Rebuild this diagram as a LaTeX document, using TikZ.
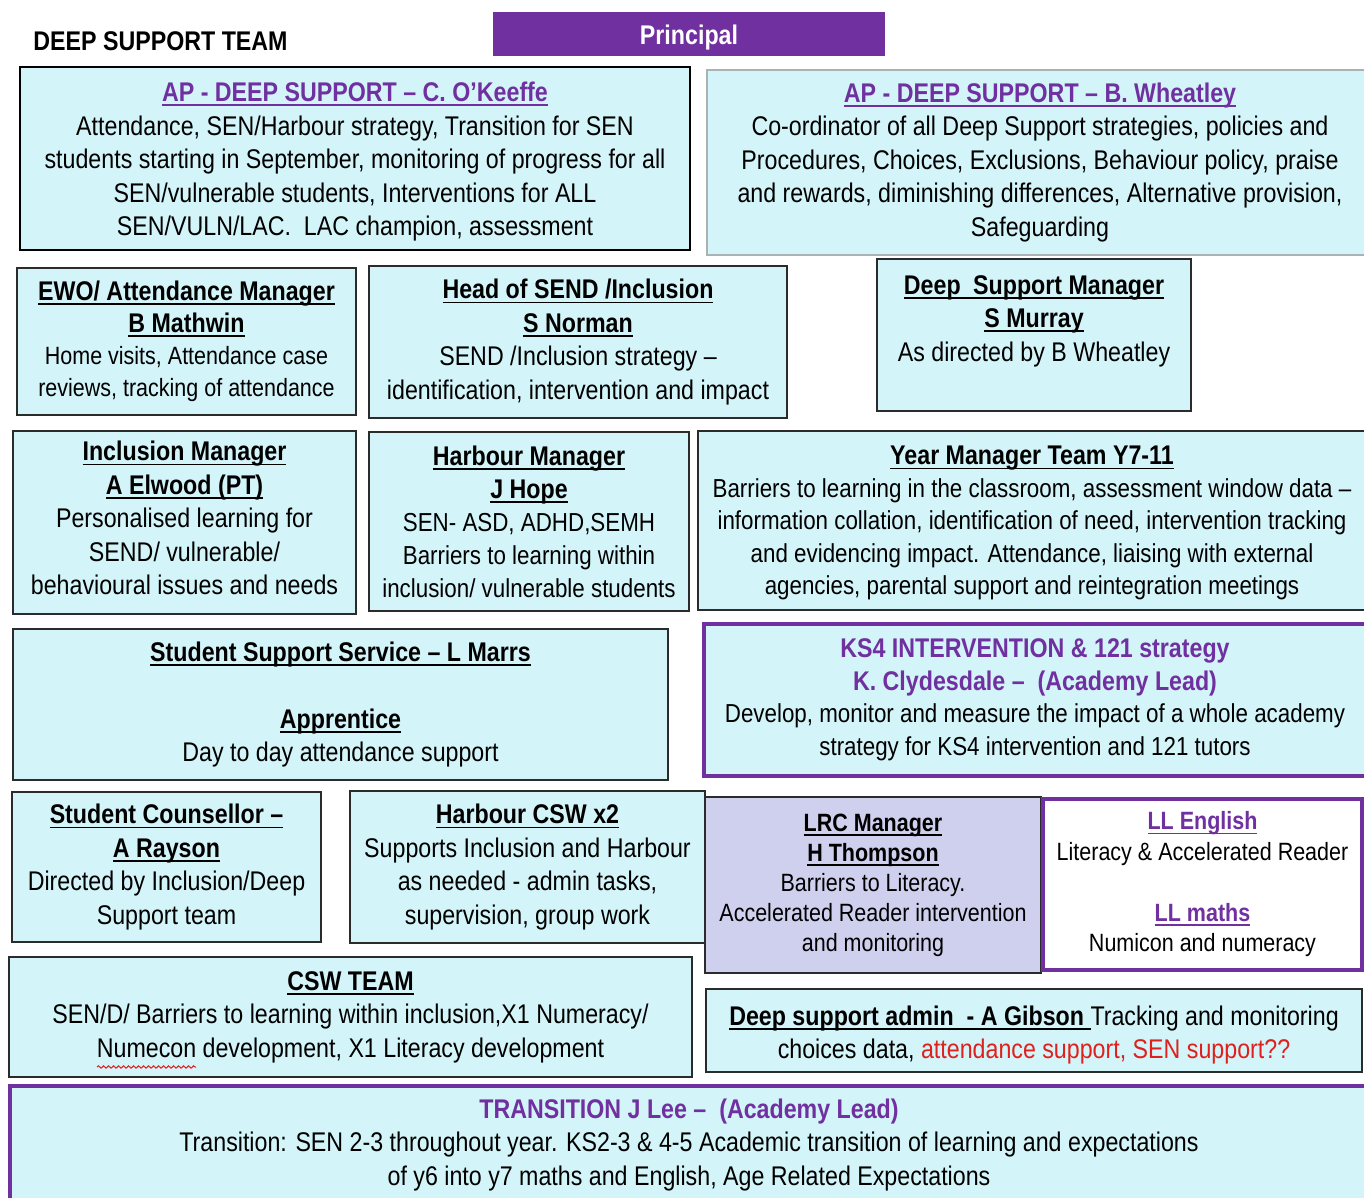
\documentclass[tikz,border=0pt]{standalone}
\usepackage{fontspec}
\setmainfont[FakeStretch=0.86]{Liberation Sans}
\usetikzlibrary{decorations.pathmorphing}
\definecolor{boxcyan}{HTML}{D3F4F8}
\definecolor{deeppurple}{HTML}{7030A0}
\definecolor{lrclilac}{HTML}{CFD0EE}
\definecolor{alertred}{HTML}{E0201C}
\definecolor{edgegrey}{HTML}{2B2B2B}
\definecolor{softgrey}{HTML}{A9B3B5}
\newlength{\linelen}
\newcommand{\ulined}[1]{\settowidth{\linelen}{#1}\rlap{\rule[-2.2pt]{\linelen}{0.8pt}}#1}
\newcommand{\hd}[1]{\textbf{\ulined{#1}}}
\newcommand{\phd}[1]{\textcolor{deeppurple}{\textbf{\ulined{#1}}}}
\newcommand{\ptl}[1]{\textcolor{deeppurple}{\textbf{#1}}}
\newcommand{\tsz}{\fontsize{13.5}{16}\selectfont}
\newcommand{\lift}[1]{\rule{0pt}{#1}}
\newcommand{\sink}[1]{\rule[-#1]{0pt}{0pt}}
\tikzset{
  rolebox/.style={draw=edgegrey, line width=1pt, fill=boxcyan, inner sep=0pt, align=center,
    font=\fontsize{13.5}{16.75}\selectfont},
  softbox/.style={rolebox, draw=softgrey},
  purplebox/.style={rolebox, draw=deeppurple, line width=2pt},
  smalltext/.style={font=\fontsize{12.5}{15}\selectfont},
  wh/.style 2 args={minimum width=#1*0.5pt, minimum height=#2*0.5pt}
}
\begin{document}
\begin{tikzpicture}[x=0.5pt, y=-0.5pt]
\path[use as bounding box, clip] (0,0) rectangle (1364,1198);
\fill[white] (0,0) rectangle (1364,1198);

\node[anchor=west, inner sep=0pt, font=\bfseries\fontsize{13.5}{16}\selectfont] (teamtitle) at (33,41) {DEEP SUPPORT TEAM};
\node[fill=deeppurple, text=white, inner sep=0pt, font=\bfseries\fontsize{13.5}{16}\selectfont,
  wh={392}{44}] (principal) at (689,34) {\lift{13pt}Principal};

\node[rolebox, draw=black, wh={670}{183}] (okeeffe) at (355,158.5) {\lift{13pt}\phd{AP - DEEP SUPPORT – C. O’Keeffe}\\
  Attendance, SEN/Harbour strategy, Transition for SEN\\
  students starting in September, monitoring of progress for all\\
  SEN/vulnerable students, Interventions for ALL\\
  SEN/VULN/LAC.\ \ LAC champion, assessment};
\node[softbox, wh={666}{185}] (wheatley) at (1040,162.5) {\phd{AP - DEEP SUPPORT – B. Wheatley}\\
  Co-ordinator of all Deep Support strategies, policies and\\
  Procedures, Choices, Exclusions, Behaviour policy, praise\\
  and rewards, diminishing differences, Alternative provision,\\
  Safeguarding};

\node[rolebox, font=\fontsize{12.5}{16}\selectfont, wh={339}{147}] (ewo) at (186.5,341.5) {{\tsz\hd{EWO/ Attendance Manager}}\\
  {\tsz\hd{B Mathwin}}\\
  Home visits, Attendance case\\
  reviews, tracking of attendance};
\node[rolebox, wh={418}{152}] (headsend) at (578,342) {\hd{Head of SEND /Inclusion}\\
  \hd{S Norman}\\
  SEND /Inclusion strategy –\\
  identification, intervention and impact};
\node[rolebox, wh={314}{152}] (dsmanager) at (1034,335) {\hd{Deep\hspace{3pt} Support Manager}\\
  \hd{S Murray}\\
  As directed by B Wheatley\\ ~};

\node[rolebox, wh={343}{183}] (inclusion) at (184.5,522.5) {\hd{Inclusion Manager}\\
  \hd{A Elwood (PT)}\\
  Personalised learning for\\
  SEND/ vulnerable/\\
  behavioural issues and needs\sink{4.3pt}};
\node[rolebox, font=\fontsize{13}{16.5}\selectfont, wh={320}{179}] (harbour) at (529,521.5) {{\tsz\hd{Harbour Manager}}\\
  {\tsz\hd{J Hope}}\\
  SEN- ASD, ADHD,SEMH\\
  Barriers to learning within\\
  inclusion/ vulnerable students};
\node[rolebox, font=\fontsize{13}{16.25}\selectfont, wh={668}{179}] (yearteam) at (1032,520.5) {{\tsz\lift{12pt}\hd{Year Manager Team Y7-11}}\\
  Barriers to learning in the classroom, assessment window data –\\
  information collation, identification of need, intervention tracking\\
  and evidencing impact. Attendance, liaising with external\\
  agencies, parental support and reintegration meetings};

\node[rolebox, wh={655}{151}] (studentsupport) at (340.5,704.5) {\hd{Student Support Service – L Marrs}\\
  ~\\
  \hd{Apprentice}\\
  Day to day attendance support};
\node[purplebox, font=\fontsize{13}{16.25}\selectfont, wh={662}{152}] (ks4) at (1035,700) {{\tsz\ptl{KS4 INTERVENTION \& 121 strategy}}\\
  {\tsz\ptl{K. Clydesdale –\ \ (Academy Lead)}}\\
  Develop, monitor and measure the impact of a whole academy\\
  strategy for KS4 intervention and 121 tutors};

\node[rolebox, wh={309}{150}] (counsellor) at (166.5,867) {\hd{Student Counsellor –}\\
  \hd{A Rayson}\\
  Directed by Inclusion/Deep\\
  Support team};
\node[rolebox, wh={355}{152}] (harbourcsw) at (527.5,867) {\hd{Harbour CSW x2}\\
  Supports Inclusion and Harbour\\
  as needed - admin tasks,\\
  supervision, group work};
\node[rolebox, smalltext, fill=lrclilac, wh={336}{176}] (lrc) at (873,885) {\hd{LRC Manager}\\
  \hd{H Thompson}\\
  Barriers to Literacy.\\
  Accelerated Reader intervention\\
  and monitoring};
\node[purplebox, fill=white, font=\fontsize{12.5}{15.25}\selectfont, wh={319}{171}] (lead) at (1202.5,884.5) {\phd{LL English}\\
  Literacy \& Accelerated Reader\\
  ~\\
  \phd{LL maths}\\
  Numicon and numeracy};

\node[rolebox, wh={683}{120}] (cswteam) at (350.5,1017) {\hd{CSW TEAM}\\
  SEN/D/ Barriers to learning within inclusion,X1 Numeracy/\\
  Numecon development, X1 Literacy development};
\draw[alertred, line width=0.5pt, decorate, decoration={snake, amplitude=0.6pt, segment length=2.5pt}]
  (97,1067) -- (196,1067);
\node[rolebox, font=\fontsize{13.5}{16.5}\selectfont, wh={656}{83}] (admin) at (1034,1030.5) {\lift{14pt}\hd{Deep support admin\ \ - A Gibson\ }Tracking and monitoring\\
  choices data, \textcolor{alertred}{attendance support, SEN support??}};

\node[purplebox, wh={1358}{118}] (transition) at (689,1145) {\ptl{TRANSITION J Lee –\ \ (Academy Lead)}\\
  Transition: SEN 2-3 throughout year. KS2-3 \& 4-5 Academic transition of learning and expectations\\
  of y6 into y7 maths and English, Age Related Expectations};
\end{tikzpicture}
\end{document}
